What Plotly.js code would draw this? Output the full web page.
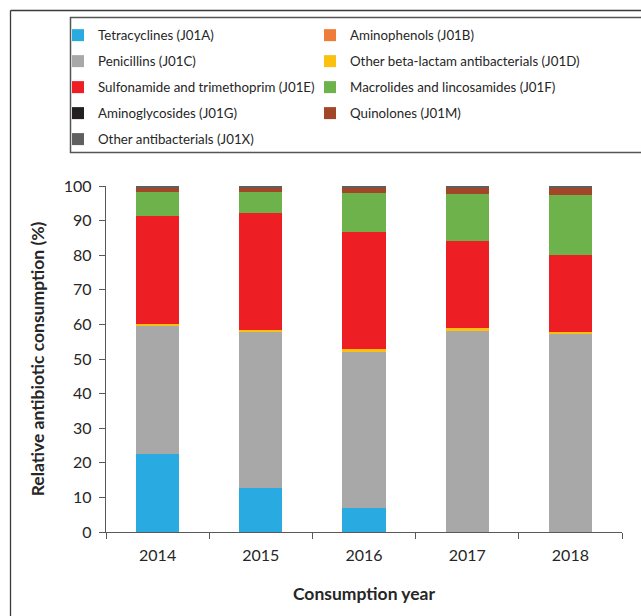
<!DOCTYPE html>
<html>
<head>
<meta charset="utf-8">
<script src="https://cdn.plot.ly/plotly-3.0.1.min.js"></script>
<style>
html,body{margin:0;padding:0;background:#fff;}
#chart{width:641px;height:616px;}
</style>
</head>
<body>
<div id="chart"></div>
<script>
// ---- data ----
const years = ["2014", "2015", "2016", "2017", "2018"];
const seriesNames = [
  "Tetracyclines (J01A)",
  "Aminophenols (J01B)",
  "Penicillins (J01C)",
  "Other beta-lactam antibacterials (J01D)",
  "Sulfonamide and trimethoprim (J01E)",
  "Macrolides and lincosamides (J01F)",
  "Aminoglycosides (J01G)",
  "Quinolones (J01M)",
  "Other antibacterials (J01X)"
];
const tetracyclines = [22.5, 12.7, 6.9, 0, 0];
const aminophenols = [0, 0, 0, 0, 0];
const penicillins = [37.1, 45.2, 45.2, 58.2, 57.3];
const otherBetaLactam = [0.5, 0.5, 0.7, 0.8, 0.4];
const sulfonamide = [31.2, 33.8, 33.9, 25.1, 22.3];
const macrolides = [7.0, 6.1, 11.3, 13.6, 17.4];
const aminoglycosides = [0, 0, 0, 0, 0];
const quinolones = [1.1, 1.1, 1.7, 2.0, 2.0];
const otherAntibacterials = [0.6, 0.6, 0.3, 0.3, 0.6];
const yTicks = [0, 10, 20, 30, 40, 50, 60, 70, 80, 90, 100];

// ---- styling ----
const seriesValues = [tetracyclines, aminophenols, penicillins, otherBetaLactam,
  sulfonamide, macrolides, aminoglycosides, quinolones, otherAntibacterials];
const colors = ["#29abe2", "#f07c3a", "#a8a8a8", "#fcc010", "#ed1f24",
  "#6db24a", "#231f20", "#a2462a", "#5f5f5f"];
const legendOf = ["legend", "legend2", "legend", "legend2", "legend",
  "legend2", "legend", "legend2", "legend"];

const FONT = "Lato, 'Open Sans', sans-serif";
const TXT = "#262626";

// plot area in px
const L = 106, R = 622, T = 186, B = 532;
const px2x = p => (p - L) / (R - L);
const px2y = p => (B - p) / (B - T);

const data = seriesValues.map((vals, i) => ({
  type: "bar",
  name: seriesNames[i],
  x: years,
  y: vals,
  width: 0.42,
  marker: {color: colors[i], line: {width: 0}},
  legend: legendOf[i],
  legendgroup: "g" + i,
  hoverinfo: "name+y"
}));

const legendCommon = {
  orientation: "v",
  xanchor: "left",
  yanchor: "top",
  bgcolor: "rgba(0,0,0,0)",
  borderwidth: 0,
  tracegroupgap: 5.7,
  font: {family: FONT, size: 13.3, color: TXT},
  itemclick: false,
  itemdoubleclick: false
};

const layout = {
  width: 641,
  height: 616,
  margin: {l: L, r: 641 - R, t: T, b: 616 - B, pad: 0},
  paper_bgcolor: "#fff",
  plot_bgcolor: "#fff",
  barmode: "stack",
  bargap: 0.58,
  showlegend: true,
  legend: Object.assign({}, legendCommon, {x: px2x(58), y: px2y(20)}),
  legend2: Object.assign({}, legendCommon, {x: px2x(310), y: px2y(20)}),
  xaxis: {
    type: "category",
    showline: true,
    linecolor: "#595959",
    linewidth: 1.3,
    ticks: "outside",
    tickson: "boundaries",
    ticklen: 6,
    tickcolor: "#595959",
    tickwidth: 1.3,
    showgrid: false,
    zeroline: false,
    ticklabelstandoff: 9,
    tickfont: {family: FONT, size: 16, color: TXT},
    title: {text: "<b>Consumption year</b>", font: {family: FONT, size: 17.5, color: TXT}, standoff: 24}
  },
  yaxis: {
    range: [0, 100],
    tickvals: yTicks,
    showline: true,
    linecolor: "#595959",
    linewidth: 1.3,
    ticks: "outside",
    ticklen: 6,
    tickcolor: "#595959",
    tickwidth: 1.3,
    showgrid: false,
    zeroline: false,
    ticklabelstandoff: 4,
    tickfont: {family: FONT, size: 16, color: TXT},
    title: {text: "<b>Relative antibiotic consumption (%)</b>", font: {family: FONT, size: 17.5, color: TXT}, standoff: 14}
  },
  shapes: [
    // outer frame (top and left edges)
    {type: "line", xref: "paper", yref: "paper", x0: px2x(10.5), x1: px2x(660), y0: px2y(10.5), y1: px2y(10.5), line: {color: "#3a3a3a", width: 1.3}},
    {type: "line", xref: "paper", yref: "paper", x0: px2x(10.5), x1: px2x(10.5), y0: px2y(10.5), y1: px2y(640), line: {color: "#3a3a3a", width: 1.3}},
    // legend box
    {type: "rect", xref: "paper", yref: "paper", x0: px2x(70.5), x1: px2x(700), y0: px2y(17.5), y1: px2y(152.5), line: {color: "#555", width: 1.5}, fillcolor: "rgba(0,0,0,0)"}
  ]
};

Plotly.newPlot("chart", data, layout, {displayModeBar: false});
</script>
</body>
</html>
